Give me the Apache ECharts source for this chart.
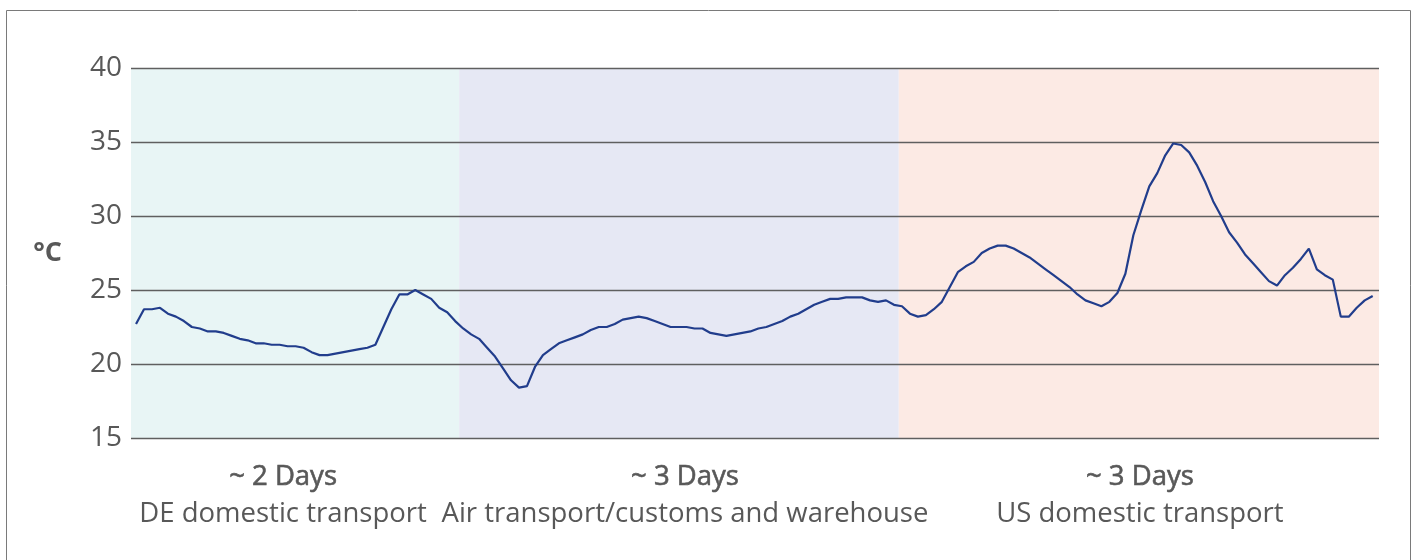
<!DOCTYPE html>
<html>
<head>
<meta charset="utf-8">
<script src="https://cdn.jsdelivr.net/npm/echarts@6/dist/echarts.min.js"></script>
<style>
  html, body { margin: 0; padding: 0; background: #fff; }
  #chart { width: 1416px; height: 560px; }
</style>
</head>
<body>
<div id="chart"></div>
<script>
// temperature readings (°C), one per sample, grouped by leg of the trip
var tempDE = [22.7, 23.7, 23.7, 23.8, 23.4, 23.2, 22.9, 22.5, 22.4, 22.2, 22.2, 22.1, 21.9, 21.7, 21.6, 21.4, 21.4, 21.3, 21.3, 21.2, 21.2, 21.1, 20.8, 20.6, 20.6, 20.7, 20.8, 20.9, 21.0, 21.1, 21.3, 22.5, 23.7, 24.7, 24.7, 25.0, 24.7, 24.4, 23.8, 23.5, 22.9, 22.4, 22.0];
var tempAir = [21.7, 21.1, 20.5, 19.7, 18.9, 18.4, 18.5, 19.8, 20.6, 21.0, 21.4, 21.6, 21.8, 22.0, 22.3, 22.5, 22.5, 22.7, 23.0, 23.1, 23.2, 23.1, 22.9, 22.7, 22.5, 22.5, 22.5, 22.4, 22.4, 22.1, 22.0, 21.9, 22.0, 22.1, 22.2, 22.4, 22.5, 22.7, 22.9, 23.2, 23.4, 23.7, 24.0, 24.2, 24.4, 24.4, 24.5, 24.5, 24.5, 24.3, 24.2];
var tempUS = [24.3, 24.0, 23.9, 23.4, 23.2, 23.3, 23.7, 24.2, 25.2, 26.2, 26.6, 26.9, 27.5, 27.8, 28.0, 28.0, 27.8, 27.5, 27.2, 26.8, 26.4, 26.0, 25.6, 25.2, 24.7, 24.3, 24.1, 23.9, 24.2, 24.8, 26.1, 28.7, 30.4, 32.0, 32.9, 34.1, 34.9, 34.8, 34.3, 33.4, 32.3, 31.0, 30.0, 28.9, 28.2, 27.4, 26.8, 26.2, 25.6, 25.3, 26.0, 26.5, 27.1, 27.8, 26.4, 26.0, 25.7, 23.2, 23.2, 23.8, 24.3, 24.6];

// legs of the trip
var legDays = ["~ 2 Days", "~ 3 Days", "~ 3 Days"];
var legNames = ["DE domestic transport", "Air transport/customs and warehouse", "US domestic transport"];
// where each leg starts/ends, in sample index
var legEdges = [-0.63, 40.5, 95.6, 155.79];
var legColors = ["#e8f5f5", "#e6e8f4", "#fceae4"];

// y ticks
var yTicks = [15, 20, 25, 30, 35, 40];

var temps = tempDE.concat(tempAir, tempUS);
var seriesData = temps.map(function (v, i) { return [i, v]; });

var textColor = "#585858";
var fontFam = "'Open Sans', 'Noto Sans', sans-serif";

var areas = legNames.map(function (name, i) {
  var offs = [[-12, 0], [6, 0], [1, 0]];
  return [
    {
      xAxis: legEdges[i],
      itemStyle: { color: legColors[i] },
      label: { offset: offs[i], formatter: "{a|" + legDays[i] + "}\n{b|" + name + "}" }
    },
    { xAxis: legEdges[i + 1] }
  ];
});

var chart = echarts.init(document.getElementById("chart"));
chart.setOption({
  animation: false,
  backgroundColor: "#fff",
  graphic: [{
    type: "rect",
    shape: { x: 6.5, y: 10.5, width: 1404, height: 600 },
    style: { fill: "none", stroke: "#7a7a7a", lineWidth: 1 },
    z: 0
  }],
  grid: { left: 131, right: 37, top: 68, bottom: 122 },
  xAxis: {
    type: "value",
    min: legEdges[0],
    max: legEdges[legEdges.length - 1],
    show: false
  },
  yAxis: {
    type: "value",
    z: 2,
    min: yTicks[0],
    max: yTicks[yTicks.length - 1],
    interval: 5,
    name: "°C",
    nameLocation: "middle",
    nameRotate: 0,
    nameGap: 69,
    nameTextStyle: { color: textColor, fontSize: 27, fontWeight: "bold", fontFamily: fontFam, padding: [0, 0, 18, 0] },
    axisLine: { show: false },
    axisTick: { show: false },
    axisLabel: { color: textColor, fontSize: 28, fontFamily: fontFam, margin: 9 },
    splitLine: { lineStyle: { color: "#5f5f5f", width: 1.3 } }
  },
  series: [{
    type: "line",
    z: 3,
    data: seriesData,
    showSymbol: false,
    lineStyle: { color: "#213d8c", width: 2.2 },
    markArea: {
      silent: true,
      z: 1,
      itemStyle: { opacity: 1 },
      label: {
        show: true,
        position: "bottom",
        distance: 21,
        fontFamily: fontFam,
        rich: {
          a: {
            fontSize: 27.5, color: textColor, lineHeight: 37, fontFamily: fontFam,
            textBorderColor: textColor, textBorderWidth: 0.6
          },
          b: { fontSize: 27.5, color: textColor, lineHeight: 37, fontFamily: fontFam }
        }
      },
      data: areas
    }
  }]
});
</script>
</body>
</html>
